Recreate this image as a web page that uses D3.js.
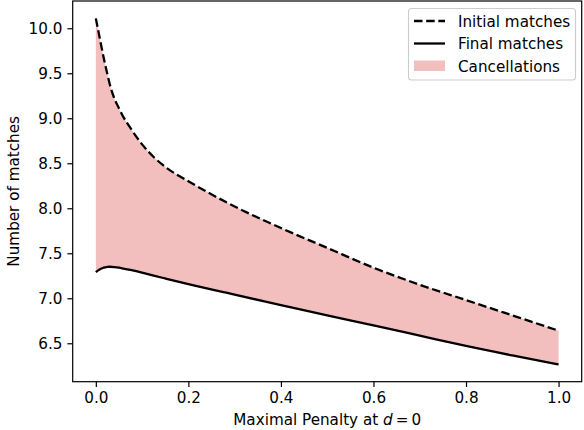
<!DOCTYPE html>
<html>
<head>
<meta charset="utf-8">
<script src="https://cdn.jsdelivr.net/npm/d3@7"></script>
<style>
  html, body { margin: 0; padding: 0; background: #fff; }
  svg { display: block; }
  text { font-family: "DejaVu Sans", sans-serif; fill: #000; }
</style>
</head>
<body>
<svg id="chart" width="584" height="430"></svg>
<script>
// ---- data ----
const penalty = [0, 0.005, 0.01, 0.015, 0.02, 0.025, 0.03, 0.04, 0.05, 0.06, 0.075, 0.1, 0.125, 0.15, 0.2, 0.3, 0.4, 0.5, 0.6, 0.7, 0.8, 0.9, 1.0];
const initialMatches = [10.11, 9.98, 9.85, 9.72, 9.60, 9.49, 9.38, 9.22, 9.11, 9.01, 8.89, 8.71, 8.57, 8.46, 8.30, 8.02, 7.78, 7.56, 7.34, 7.15, 6.98, 6.81, 6.64];
const finalMatches   = [7.29, 7.31, 7.325, 7.336, 7.343, 7.348, 7.35, 7.347, 7.34, 7.33, 7.315, 7.285, 7.252, 7.22, 7.157, 7.04, 6.925, 6.81, 6.70, 6.585, 6.47, 6.365, 6.265];
const xTicks = [0.0, 0.2, 0.4, 0.6, 0.8, 1.0];
const yTicks = [6.5, 7.0, 7.5, 8.0, 8.5, 9.0, 9.5, 10.0];
const legendLabels = ["Initial matches", "Final matches", "Cancellations"];

// ---- layout ----
const FS = 15.2;
const L = 72.7, R = 581.7, T = 1, B = 381.7;
const svg = d3.select("#chart");
const x = d3.scaleLinear().domain([-0.05, 1.05]).range([L, R]);
const y = d3.scaleLinear().domain([6.073, 10.303]).range([B, T]);

const rows = penalty.map((p, i) => ({ p, a: initialMatches[i], b: finalMatches[i] }));

// fill
svg.append("path")
  .datum(rows)
  .attr("d", d3.area().x(d => x(d.p)).y0(d => y(d.b)).y1(d => y(d.a)).curve(d3.curveMonotoneX))
  .attr("fill", "rgb(214,39,40)").attr("fill-opacity", 0.3);

// lines
svg.append("path")
  .datum(rows)
  .attr("d", d3.line().x(d => x(d.p)).y(d => y(d.a)).curve(d3.curveMonotoneX))
  .attr("fill", "none").attr("stroke", "#000").attr("stroke-width", 2.3)
  .attr("stroke-dasharray", "8.5,3.67");
svg.append("path")
  .datum(rows)
  .attr("d", d3.line().x(d => x(d.p)).y(d => y(d.b)).curve(d3.curveMonotoneX))
  .attr("fill", "none").attr("stroke", "#000").attr("stroke-width", 2.3);

// axes
const fmt = d3.format(".1f");
const xAxis = svg.append("g").attr("transform", `translate(0,${B})`)
  .call(d3.axisBottom(x).tickValues(xTicks).tickFormat(fmt).tickSize(5.3).tickPadding(5));
const yAxis = svg.append("g").attr("transform", `translate(${L},0)`)
  .call(d3.axisLeft(y).tickValues(yTicks).tickFormat(fmt).tickSize(5.3).tickPadding(5));
[xAxis, yAxis].forEach(g => {
  g.select(".domain").remove();
  g.selectAll(".tick line").attr("stroke", "#000").attr("stroke-width", 1.2);
  g.selectAll(".tick text").attr("font-size", FS).attr("font-family", "DejaVu Sans").attr("fill", "#000");
});

// spines
svg.append("rect").attr("x", L).attr("y", T).attr("width", R - L).attr("height", B - T)
  .attr("fill", "none").attr("stroke", "#000").attr("stroke-width", 1.2);

// axis labels
const xl = svg.append("text").attr("x", (L + R) / 2).attr("y", 424.5).attr("text-anchor", "middle").attr("font-size", FS);
xl.append("tspan").text("Maximal Penalty at ");
xl.append("tspan").attr("font-style", "italic").text("d");
xl.append("tspan").text("\u2009=\u20090");
svg.append("text").attr("transform", `translate(18.5,${(T + B) / 2}) rotate(-90)`)
  .attr("text-anchor", "middle").attr("font-size", FS).text("Number of matches");

// legend
const lg = svg.append("g");
lg.append("rect").attr("x", 408.5).attr("y", 8.5).attr("width", 167).attr("height", 71.5).attr("rx", 3)
  .attr("fill", "#fff").attr("fill-opacity", 0.8).attr("stroke", "#cccccc").attr("stroke-width", 1.1);
const rowY = [21, 43.5, 66];
lg.append("line").attr("x1", 414).attr("x2", 445).attr("y1", rowY[0]).attr("y2", rowY[0])
  .attr("stroke", "#000").attr("stroke-width", 2.3).attr("stroke-dasharray", "8.5,3.67");
lg.append("line").attr("x1", 414).attr("x2", 445).attr("y1", rowY[1]).attr("y2", rowY[1])
  .attr("stroke", "#000").attr("stroke-width", 2.3);
lg.append("rect").attr("x", 414).attr("y", rowY[2] - 5.5).attr("width", 31).attr("height", 10.5)
  .attr("fill", "rgb(214,39,40)").attr("fill-opacity", 0.3);
legendLabels.forEach((t, i) => {
  lg.append("text").attr("x", 458).attr("y", rowY[i] + 5.5).attr("font-size", FS).text(t);
});
</script>
</body>
</html>
